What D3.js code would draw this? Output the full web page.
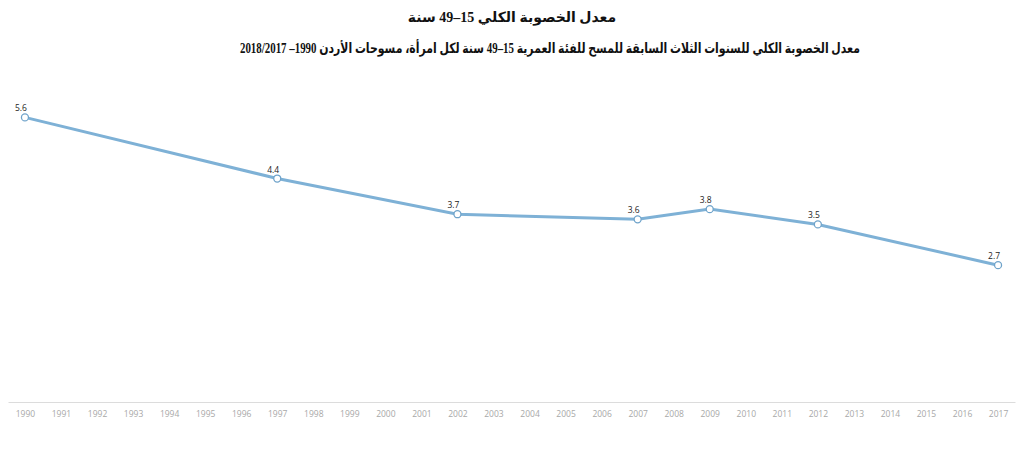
<!DOCTYPE html>
<html>
<head>
<meta charset="utf-8">
<script src="https://cdn.jsdelivr.net/npm/d3@7"></script>
<style>
  body { margin: 0; background: #fff; }
  .title { font-family: "Liberation Serif", "DejaVu Sans", serif; font-weight: bold; fill: #111; }
  .tick text { font-family: "Open Sans", "DejaVu Sans", sans-serif; }
</style>
</head>
<body>
<div id="chart"></div>
<script>
//Chart Data
let years = d3.range(1990, 2018);
let surveyYears = [1990, 1997, 2002, 2007, 2009, 2012, 2017];
let tfrValues = [5.6, 4.4, 3.7, 3.6, 3.8, 3.5, 2.7];

let titleText = "معدل الخصوبة الكلي 15–49 سنة";
let subtitleText = "معدل الخصوبة الكلي للسنوات الثلاث السابقة للمسح للفئة العمرية 15–49 سنة لكل امرأة، مسوحات الأردن 1990– 2018/2017";

//SVG Size
let svgWidth = 1024;
let svgHeight = 472;

let margin = { top: 97, bottom: 70, left: 8, right: 9 };
let width = svgWidth - margin.left - margin.right;
let height = 402.8 - margin.top;

let svg = d3.select("#chart")
  .append("svg")
  .attr("width", svgWidth)
  .attr("height", svgHeight);

//Titles
svg.append("text")
  .attr("class", "title")
  .attr("x", 512)
  .attr("y", 22)
  .attr("direction", "rtl")
  .style("text-anchor", "middle")
  .style("font-size", "14px")
  .text(titleText);

svg.append("text")
  .attr("class", "title")
  .attr("x", 550)
  .attr("y", 53)
  .attr("direction", "rtl")
  .attr("textLength", 620)
  .attr("lengthAdjust", "spacingAndGlyphs")
  .style("text-anchor", "middle")
  .style("font-size", "14px")
  .text(subtitleText);

let chartGroup = svg.append("g")
  .attr("transform", `translate(${margin.left}, ${margin.top})`);

//Scales
let xScale = d3.scalePoint()
  .domain(years)
  .range([0, width])
  .padding(0.47);

let yScale = d3.scaleLinear()
  .domain([0, 6])
  .range([height, 0]);

//Bottom Axis
let bottomAxis = d3.axisBottom(xScale).tickSize(0).tickPadding(9);
let axisGroup = chartGroup.append("g")
  .attr("transform", `translate(0, ${height - 0.8})`)
  .call(bottomAxis);
axisGroup.select(".domain").attr("stroke", "#dcdcdc");
axisGroup.selectAll("text")
  .style("font-size", "8.5px")
  .style("fill", "#a8a8a8");

//Line
let points = surveyYears.map((y, i) => ({ year: y, value: tfrValues[i] }));
let line = d3.line()
  .x(d => xScale(d.year))
  .y(d => yScale(d.value));

chartGroup.append("path")
  .datum(points)
  .attr("d", line)
  .attr("fill", "none")
  .attr("stroke", "#7eb1d6")
  .attr("stroke-width", 3);

chartGroup.selectAll("circle")
  .data(points)
  .enter()
  .append("circle")
  .attr("cx", d => xScale(d.year))
  .attr("cy", d => yScale(d.value))
  .attr("r", 3.5)
  .attr("fill", "#fff")
  .attr("stroke", "#6fa3ca")
  .attr("stroke-width", 1.3);

chartGroup.selectAll(".valueLabel")
  .data(points)
  .enter()
  .append("text")
  .attr("class", "valueLabel")
  .attr("x", d => xScale(d.year) - 4)
  .attr("y", d => yScale(d.value) - 6)
  .style("font-family", "'Open Sans', 'DejaVu Sans', sans-serif")
  .style("font-size", "8.5px")
  .style("text-anchor", "middle")
  .style("fill", "#222")
  .text(d => d.value);
</script>
</body>
</html>
